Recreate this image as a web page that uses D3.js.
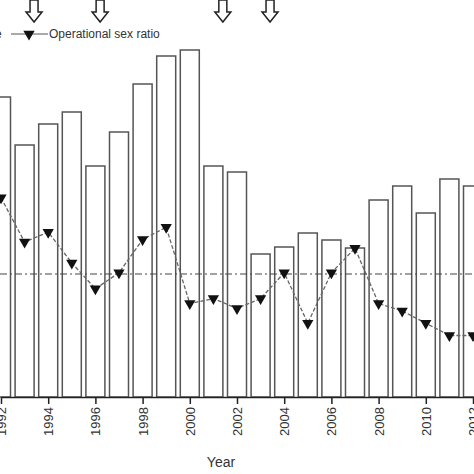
<!DOCTYPE html>
<html lang="en">
<head>
<meta charset="UTF-8">
<script src="https://d3js.org/d3.v7.min.js"></script>
<style>body{margin:0;background:#fff}svg{font-family:Arial,"Liberation Sans",sans-serif}</style>
</head>
<body>
<svg width="474" height="474"></svg>
<script>
var years = d3.range(1992, 2013);
var barValues = [300,252,273,285,231,265,313,341,347,231,225,143,150,164,157,149,197,211,184,218,211];
var osrValues = [1.62,1.26,1.34,1.09,0.88,1.01,1.28,1.38,0.76,0.80,0.72,0.80,1.01,0.60,1.01,1.21,0.76,0.70,0.60,0.50,0.50];
var arrowYears = [1993.4, 1996.2, 2001.4, 2003.4];
var tickYears = d3.range(1992, 2013, 2);

var svg = d3.select("svg");
var base = 397;
var x = d3.scaleLinear().domain([1992, 2012]).range([1, 473]);
var yBar = d3.scaleLinear().domain([0, 350]).range([base, 47]);
var yOsr = d3.scaleLinear().domain([0, 1]).range([base, 274]);
var bw = 19;

svg.selectAll(".bar").data(years).enter().append("rect")
    .attr("x", function (d) { return x(d) - bw / 2 })
    .attr("y", function (d, i) { return yBar(barValues[i]) })
    .attr("width", bw)
    .attr("height", function (d, i) { return base - yBar(barValues[i]) })
    .attr("fill", "#fff").attr("stroke", "#555").attr("stroke-width", 1.5);

// reference line at ratio 1
svg.append("line").attr("x1", 0).attr("x2", 474)
    .attr("y1", yOsr(1)).attr("y2", yOsr(1))
    .attr("stroke", "#444").attr("stroke-width", 1.2).attr("stroke-dasharray", "7,3,2,3");

var line = d3.line().x(function (d) { return x(d) }).y(function (d, i) { return yOsr(osrValues[i]) });
svg.append("path").datum(years).attr("d", line)
    .attr("fill", "none").attr("stroke", "#666").attr("stroke-width", 1.3).attr("stroke-dasharray", "4,2");

var tri = d3.symbol().type(d3.symbolTriangle).size(55);
svg.selectAll(".pt").data(years).enter().append("path")
    .attr("d", tri)
    .attr("transform", function (d, i) { return "translate(" + x(d) + "," + yOsr(osrValues[i]) + ") rotate(180)" })
    .attr("fill", "#111");

// axis
var axis = d3.axisBottom(x).tickValues(tickYears).tickFormat(d3.format("d")).tickSize(7).tickSizeOuter(0);
var g = svg.append("g").attr("transform", "translate(0," + base + ")").call(axis);
g.select(".domain").attr("stroke", "#222").attr("stroke-width", 1.5);
g.selectAll(".tick line").attr("stroke", "#222").attr("stroke-width", 1.5);
g.selectAll(".tick text").attr("font-size", 13).attr("fill", "#333")
    .attr("transform", "rotate(-90)").attr("text-anchor", "end")
    .attr("x", -10).attr("y", 0).attr("dy", "0.35em");
svg.append("text").attr("x", 221).attr("y", 467).attr("text-anchor", "middle")
    .attr("font-size", 14).attr("fill", "#333").text("Year");

// arrows
var arrow = "M-4,0 L4,0 L4,12 L8,12 L0,22 L-8,12 L-4,12 Z";
svg.selectAll(".arrow").data(arrowYears).enter().append("path")
    .attr("d", arrow)
    .attr("transform", function (d) { return "translate(" + x(d) + ",0)" })
    .attr("fill", "#fff").attr("stroke", "#222").attr("stroke-width", 1.5);

// legend
svg.append("text").attr("x", -5).attr("y", 38).attr("font-size", 12).attr("fill", "#333").text("e");
svg.append("line").attr("x1", 11).attr("x2", 48).attr("y1", 34).attr("y2", 34).attr("stroke", "#555");
svg.append("path").attr("d", tri).attr("transform", "translate(29,34) rotate(180)").attr("fill", "#111");
svg.append("text").attr("x", 49).attr("y", 38).attr("font-size", 12).attr("fill", "#333").text("Operational sex ratio");
</script>
</body>
</html>
